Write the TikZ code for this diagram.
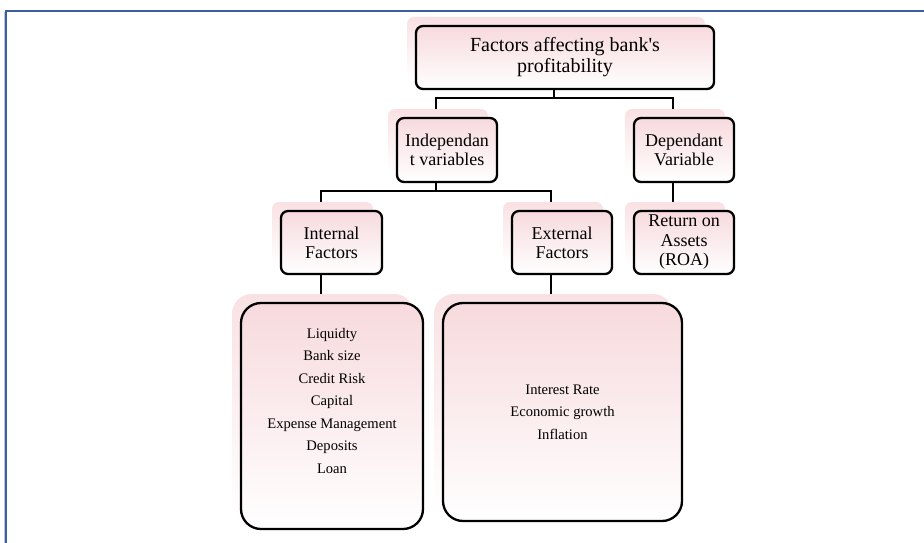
\documentclass[tikz,border=0pt]{standalone}
\usepackage{fontspec}
\setmainfont{Liberation Serif}
\usetikzlibrary{calc}
\definecolor{pinkT}{RGB}{247,218,221}
\definecolor{pinkS}{RGB}{249,225,227}
\definecolor{frameblue}{RGB}{60,95,155}
\pgfdeclarelayer{bg}
\pgfdeclarelayer{connlayer}
\pgfsetlayers{bg,connlayer,main}
\begin{document}
\begin{tikzpicture}[x=1pt,y=-1pt,
  box/.style={draw=black, line width=2.3pt, rounded corners=7pt, top color=pinkT, bottom color=white, align=center, inner sep=0pt},
  bigbox/.style={box, rounded corners=20pt},
  shadowbox/.style={draw=none, rounded corners=7pt, top color=pinkS, bottom color=white, inner sep=0pt},
  bigshadow/.style={shadowbox, rounded corners=20pt},
  conn/.style={draw=black, line width=2pt},
  topfont/.style={font=\fontsize{20}{21}\selectfont},
  midfont/.style={font=\fontsize{18}{19}\selectfont},
  listfont/.style={font=\fontsize{14.6}{22.5}\selectfont, align=center}
]
\useasboundingbox (0,0) rectangle (924,543);
\begin{pgfonlayer}{bg}
\fill[white] (0,0) rectangle (924,543);
\end{pgfonlayer}

% frame
\draw[frameblue!35, line width=1pt] (4.2,543) -- (4.2,12);
\draw[frameblue, line width=2pt] (6,543) -- (6,11.5) -- (924,11.5);

% shadows
\node[shadowbox, minimum width=298pt, minimum height=63pt] (s0) at (556,48.5) {};
\node[shadowbox, minimum width=100pt, minimum height=64pt] (s1) at (438,141) {};
\node[shadowbox, minimum width=100pt, minimum height=64pt] (s2) at (675,141) {};
\node[shadowbox, minimum width=101pt, minimum height=63pt] (s3) at (322.5,233.5) {};
\node[shadowbox, minimum width=100pt, minimum height=63pt] (s4) at (553,233.5) {};
\node[shadowbox, minimum width=100pt, minimum height=63pt] (s5) at (675,233.5) {};
\node[bigshadow, minimum width=182pt, minimum height=226pt] (s6) at (323,407) {};
\node[bigshadow, minimum width=239pt, minimum height=218pt] (s7) at (553.5,403) {};

% boxes
\node[box, topfont, minimum width=298pt, minimum height=63pt] (top) at (565,57.5) {Factors affecting bank\textquotesingle s\\profitability};
\node[box, midfont, minimum width=100pt, minimum height=64pt] (indep) at (447,150) {Independan\\t variables};
\node[box, midfont, minimum width=100pt, minimum height=64pt] (dep) at (684,150) {Dependant\\Variable};
\node[box, midfont, minimum width=101pt, minimum height=63pt] (intf) at (331.5,242.5) {Internal\\Factors};
\node[box, midfont, minimum width=100pt, minimum height=63pt] (extf) at (562,242.5) {External\\Factors};
\node[box, font=\fontsize{18}{19.5}\selectfont, minimum width=100pt, minimum height=63pt] (roa) at (684,242.5) {Return on\\Assets\\(ROA)};
\node[bigbox, minimum width=182pt, minimum height=226pt] (intl) at (332,416) {};
\node[listfont] (intltx) at (332,401) {Liquidty\\Bank size\\Credit Risk\\Capital\\Expense Management\\Deposits\\Loan};
\node[bigbox, listfont, minimum width=239pt, minimum height=218pt] (extl) at (562.5,412) {Interest Rate\\Economic growth\\Inflation};

% connectors
\begin{pgfonlayer}{connlayer}
\coordinate (j1) at ($(top.south)+(-11,8)$);
\draw[conn] ($(top.south)+(-11,0)$) -- (j1);
\draw[conn] ($(indep.north)+(-11,0)$) |- (j1) -| ($(dep.north)+(-11,0)$);
\coordinate (j2) at ($(indep.south)+(-11,8)$);
\draw[conn] ($(indep.south)+(-11,0)$) -- (j2);
\draw[conn] ($(intf.north)+(-11,0)$) |- (j2) -| ($(extf.north)+(-11,0)$);
\draw[conn] ($(dep.south)+(-11,0)$) -- ($(roa.north)+(-11,0)$);
\coordinate (c3) at ($(intf.south)+(-11,0)$);
\draw[conn] (c3) -- (c3 |- intl.north);
\coordinate (c4) at ($(extf.south)+(-11,0)$);
\draw[conn] (c4) -- (c4 |- extl.north);
\end{pgfonlayer}
\end{tikzpicture}
\end{document}
